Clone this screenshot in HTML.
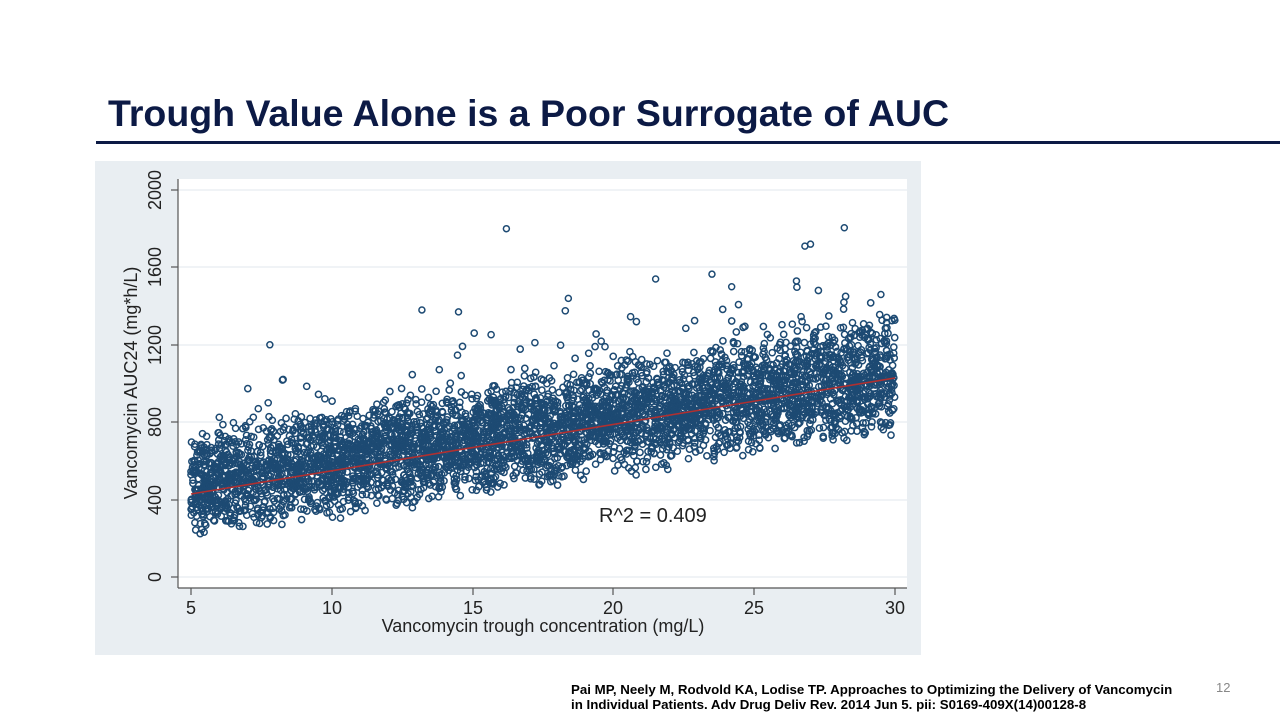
<!DOCTYPE html>
<html><head><meta charset="utf-8"><style>
body{margin:0;width:1280px;height:720px;background:#fff;position:relative;overflow:hidden;font-family:"Liberation Sans",Arial,sans-serif}
#t{position:absolute;left:108px;top:92px;font-size:37.5px;font-weight:bold;color:#0c1a45;white-space:nowrap}
#rule{position:absolute;left:96px;top:141px;width:1184px;height:3px;background:#0c1a45}
#ref{position:absolute;left:571px;top:682px;font-size:13.3px;font-weight:bold;line-height:15px;color:#000;white-space:nowrap}
#pg{position:absolute;left:1216px;top:680px;font-size:13px;color:#888}
svg{position:absolute;left:0;top:0}
</style></head><body>
<div id="t">Trough Value Alone is a Poor Surrogate of AUC</div>
<div id="rule"></div>
<svg width="1280" height="720" id="s">
<rect x="95" y="161" width="826" height="494" fill="#e9eef2"/>
<rect x="178" y="179" width="729" height="409" fill="#fff"/>
<g stroke="#e6ecf0" stroke-width="1.2">
<line x1="178" x2="907" y1="190" y2="190"/><line x1="178" x2="907" y1="267" y2="267"/>
<line x1="178" x2="907" y1="345" y2="345"/><line x1="178" x2="907" y1="422" y2="422"/>
<line x1="178" x2="907" y1="500" y2="500"/><line x1="178" x2="907" y1="577" y2="577"/>
</g>
<g stroke="#555" stroke-width="1.2" fill="none">
<line x1="178" y1="179" x2="178" y2="588"/><line x1="178" y1="588" x2="907" y2="588"/>
<line x1="171" x2="178" y1="190" y2="190"/><line x1="171" x2="178" y1="267" y2="267"/>
<line x1="171" x2="178" y1="345" y2="345"/><line x1="171" x2="178" y1="422" y2="422"/>
<line x1="171" x2="178" y1="500" y2="500"/><line x1="171" x2="178" y1="577" y2="577"/>
<line y1="588" y2="595" x1="191" x2="191"/><line y1="588" y2="595" x1="332" x2="332"/>
<line y1="588" y2="595" x1="473" x2="473"/><line y1="588" y2="595" x1="613" x2="613"/>
<line y1="588" y2="595" x1="754" x2="754"/><line y1="588" y2="595" x1="895" x2="895"/>
</g>
<g font-size="18" fill="#222" text-anchor="middle">
<text transform="translate(161,190) rotate(-90)">2000</text>
<text transform="translate(161,267) rotate(-90)">1600</text>
<text transform="translate(161,345) rotate(-90)">1200</text>
<text transform="translate(161,422) rotate(-90)">800</text>
<text transform="translate(161,500) rotate(-90)">400</text>
<text transform="translate(161,577) rotate(-90)">0</text>
<text x="191" y="614">5</text><text x="332" y="614">10</text><text x="473" y="614">15</text>
<text x="613" y="614">20</text><text x="754" y="614">25</text><text x="895" y="614">30</text>
<text x="543" y="632">Vancomycin trough concentration (mg/L)</text>
<text transform="translate(137,383) rotate(-90)">Vancomycin AUC24 (mg*h/L)</text>
</g>
<g id="pts" fill="none" stroke="#1d4a73" stroke-width="1.5"></g>
<line x1="191" y1="494" x2="895" y2="378" stroke="#b03030" stroke-width="1.6"/>
<text x="599" y="522" font-size="20" fill="#222">R^2 = 0.409</text>
</svg>
<div id="ref">Pai MP, Neely M, Rodvold KA, Lodise TP. Approaches to Optimizing the Delivery of Vancomycin<br>in Individual Patients. Adv Drug Deliv Rev. 2014 Jun 5. pii: S0169-409X(14)00128-8</div>
<div id="pg">12</div>
<script>
var seed=7;function r(){seed=(seed*16807)%2147483647;return (seed-1)/2147483646;}
var g=document.getElementById('pts'),h='';
function X(v){return 191+(v-5)*28.16}function Y(v){return 577-v*0.1935}
for(var i=0;i<4800;i++){
 var x=5+r()*25;
 var low=190+(x-5)*21;
 var span=560+(x-5)*4;
 var d=(r()+r())/2;
 var a=low+d*span+(r()<0.06?r()*350:0);
 h+='<circle cx="'+X(x).toFixed(1)+'" cy="'+Y(a).toFixed(1)+'" r="3.1"/>';
}
var ex=[[16.2,1800],[28.2,1805],[26.8,1710],[27,1720],[7.8,1200],[14.5,1370],[13.2,1380],[21.5,1540],[23.5,1565],[18.4,1440],[29.5,1460],[24.2,1500],[26.5,1530]];
ex.forEach(function(p){h+='<circle cx="'+X(p[0])+'" cy="'+Y(p[1])+'" r="3"/>';});
g.innerHTML=h;
</script>
</body></html>
